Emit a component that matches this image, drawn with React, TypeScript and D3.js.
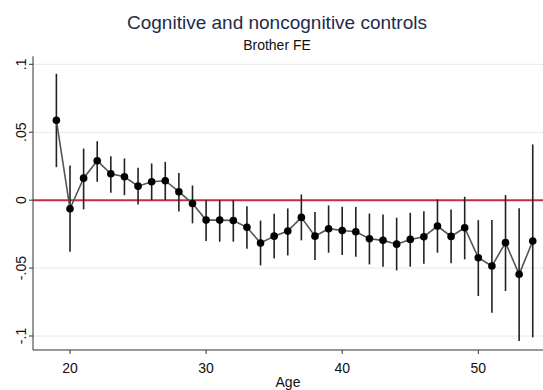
import React from "react";
import * as d3 from "d3";

// Estimated age effects with 95% confidence intervals
const ages = [19, 20, 21, 22, 23, 24, 25, 26, 27, 28, 29, 30, 31, 32, 33, 34, 35, 36, 37, 38, 39, 40, 41, 42, 43, 44, 45, 46, 47, 48, 49, 50, 51, 52, 53, 54];
const estimates = [0.0588, -0.0063, 0.0162, 0.029, 0.0194, 0.0172, 0.0103, 0.0135, 0.0143, 0.0062, -0.0025, -0.0147, -0.0147, -0.015, -0.020, -0.0316, -0.0265, -0.0228, -0.0127, -0.0265, -0.021, -0.0223, -0.0233, -0.0284, -0.0296, -0.0324, -0.0289, -0.0269, -0.0191, -0.0267, -0.0203, -0.0424, -0.0485, -0.0313, -0.0546, -0.0301];
const upper = [0.093, 0.0255, 0.038, 0.0434, 0.0324, 0.0307, 0.0238, 0.027, 0.0282, 0.020, 0.0108, 0.0, 0.0, 0.0, -0.0044, -0.015, -0.010, -0.0061, 0.0042, -0.0088, -0.0039, -0.0049, -0.0051, -0.0098, -0.0105, -0.0129, -0.0093, -0.0081, 0.0005, -0.0068, 0.0025, -0.0147, -0.0147, 0.0037, -0.006, 0.041];
const lower = [0.0243, -0.038, -0.0068, 0.0135, 0.0054, 0.0037, -0.0032, 0.0, 0.0, -0.0083, -0.0171, -0.030, -0.0306, -0.0306, -0.0357, -0.048, -0.043, -0.0407, -0.0296, -0.0441, -0.0387, -0.0404, -0.0416, -0.0473, -0.049, -0.0517, -0.049, -0.0468, -0.0387, -0.0465, -0.0436, -0.0706, -0.0828, -0.0669, -0.1037, -0.101];

const xTicks = [20, 30, 40, 50];
const yTicks = [0.1, 0.05, 0, -0.05, -0.1];
const yTickLabels = [".1", ".05", "0", "-.05", "-.1"];

const W = 543;
const H = 390;
const left = 33;
const right = 543;
const bottom = 350;

export default function App() {
  const x = d3.scaleLinear().domain([20, 50]).range([70, 478.3]);
  const y = d3.scaleLinear().domain([-0.1, 0.1]).range([336, 64.3]);

  const pts = ages.map((a, i) => ({ a, v: estimates[i], lo: lower[i], hi: upper[i] }));
  const line = d3
    .line<{ a: number; v: number }>()
    .x((d) => x(d.a))
    .y((d) => y(d.v));

  const font = "Arial, 'Liberation Sans', sans-serif";

  return (
    <svg
      width={W}
      height={H}
      style={{ position: "absolute", left: 0, top: 0, background: "#fff" }}
      fontFamily={font}
    >
      <rect x={0} y={0} width={W} height={H} fill="#fff" />
      <text x={277} y={29} textAnchor="middle" fontSize={19} fill="#1e2b4d">
        Cognitive and noncognitive controls
      </text>
      <text x={277} y={50} textAnchor="middle" fontSize={14} fill="#111">
        Brother FE
      </text>

      {/* grid */}
      {yTicks.map((t) =>
        t === 0 ? null : (
          <line key={"g" + t} x1={left} x2={right} y1={y(t)} y2={y(t)} stroke="#e8e8e8" strokeWidth={1} />
        )
      )}

      {/* reference line at zero */}
      <line x1={left} x2={right} y1={y(0)} y2={y(0)} stroke="#cc2a48" strokeWidth={2} />

      {/* confidence intervals */}
      {pts.map((p) => (
        <line key={"ci" + p.a} x1={x(p.a)} x2={x(p.a)} y1={y(p.hi)} y2={y(p.lo)} stroke="#222" strokeWidth={1.6} />
      ))}

      {/* connecting line */}
      <path d={line(pts) || ""} fill="none" stroke="#555" strokeWidth={1.6} />

      {/* point estimates */}
      {pts.map((p) => (
        <circle key={"pt" + p.a} cx={x(p.a)} cy={y(p.v)} r={3.8} fill="#000" />
      ))}

      {/* axes */}
      <line x1={left} x2={left} y1={y(0.1) - 8} y2={bottom} stroke="#333" strokeWidth={1} />
      <line x1={left} x2={right} y1={bottom} y2={bottom} stroke="#333" strokeWidth={1} />

      {yTicks.map((t, i) => (
        <g key={"yt" + t}>
          <line x1={left - 4} x2={left} y1={y(t)} y2={y(t)} stroke="#333" />
          <text
            transform={`translate(${26},${y(t)}) rotate(-90)`}
            textAnchor="middle"
            fontSize={14}
            fill="#111"
          >
            {yTickLabels[i]}
          </text>
        </g>
      ))}

      {xTicks.map((t) => (
        <g key={"xt" + t}>
          <line x1={x(t)} x2={x(t)} y1={bottom} y2={bottom + 4} stroke="#333" />
          <text x={x(t)} y={373} textAnchor="middle" fontSize={14} fill="#111">
            {t}
          </text>
        </g>
      ))}

      <text x={288} y={387} textAnchor="middle" fontSize={14} fill="#111">
        Age
      </text>
    </svg>
  );
}
